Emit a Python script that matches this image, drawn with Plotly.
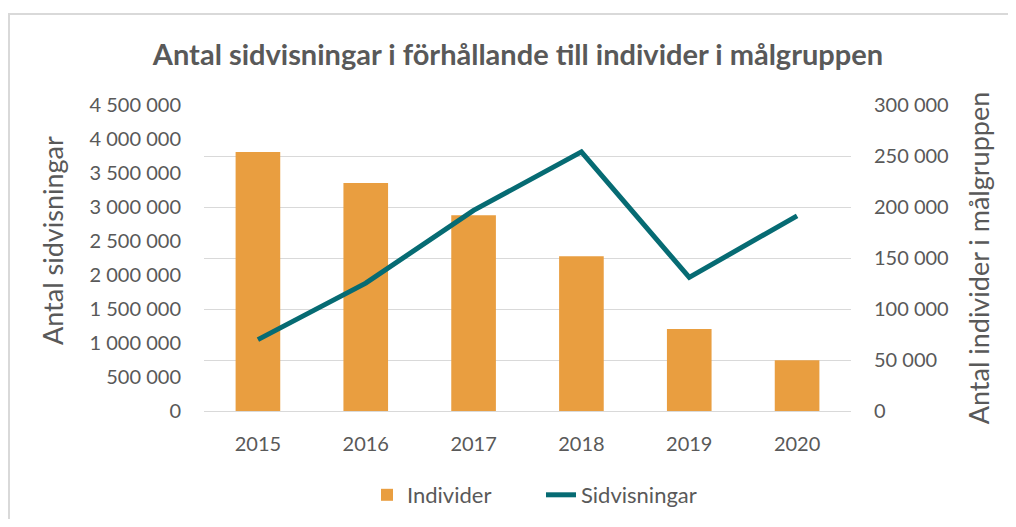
import plotly.graph_objects as go

years = ["2015", "2016", "2017", "2018", "2019", "2020"]
individer = [254000, 223500, 192000, 151700, 80400, 49700]
sidvisningar = [1050000, 1880000, 2950000, 3810000, 1965000, 2870000]

left_ticks = list(range(0, 4500001, 500000))
right_ticks = list(range(0, 300001, 50000))

TXT = "#595959"
FONT = "Lato, Carlito, Calibri, sans-serif"

# page body has 8px margin; figure is placed at (8, 8)
OFF = 8
W, H = 1000, 511
L, R, T, B = 204 - OFF, W - (851 - OFF), 105 - OFF, H - (411 - OFF)
pw, ph = W - L - R, H - T - B


def px_x(x):
    return (x - OFF - L) / pw


def px_y(y):
    return (H - B - (y - OFF)) / ph


fig = go.Figure()
fig.add_trace(go.Bar(
    x=years, y=individer, name="Individer", yaxis="y",
    marker=dict(color="#E99E40", line=dict(width=0)),
))
fig.add_trace(go.Scatter(
    x=years, y=sidvisningar, name="Sidvisningar", yaxis="y2",
    mode="lines", line=dict(color="#066B73", width=5),
))

fig.update_layout(
    width=W, height=H,
    margin=dict(l=L, r=R, t=T, b=B, autoexpand=False),
    paper_bgcolor="white", plot_bgcolor="white",
    separators=", ",
    font=dict(family=FONT, color=TXT, size=20),
    bargap=0.586,
    title=dict(
        text="<b>Antal sidvisningar i förhållande till individer i målgruppen</b>",
        x=(518 - OFF) / W, xanchor="center",
        y=1 - (55 - OFF) / H, yanchor="middle",
        font=dict(family=FONT, size=29, color=TXT),
    ),
    xaxis=dict(
        showgrid=False, showline=False, zeroline=False,
        ticks="", ticklabelstandoff=19, automargin=False,
        tickfont=dict(size=20, color=TXT),
    ),
    yaxis=dict(
        range=[0, 300000], tickvals=right_ticks, tickformat=",d",
        side="right",
        showgrid=True, gridcolor="#D9D9D9", gridwidth=1.3,
        zeroline=True, zerolinecolor="#D9D9D9", zerolinewidth=1.3,
        showline=False, ticks="", ticklabelstandoff=22, automargin=False,
        tickfont=dict(size=20, color=TXT),
        title=dict(text="Antal individer i målgruppen", standoff=22,
                   font=dict(size=27, color=TXT)),
    ),
    yaxis2=dict(
        range=[0, 4500000], tickvals=left_ticks, tickformat=",d",
        overlaying="y", side="left", showgrid=False, zeroline=False,
        showline=False, ticks="", ticklabelstandoff=22, automargin=False,
        tickfont=dict(size=20, color=TXT),
    ),
    annotations=[
        dict(text="Antal sidvisningar", xref="paper", yref="paper",
             x=px_x(52), y=px_y(241), xanchor="center", yanchor="middle",
             textangle=-90, showarrow=False,
             font=dict(size=27, color=TXT, family=FONT)),
    ],
    legend=dict(
        orientation="h", x=px_x(367), xanchor="left",
        y=px_y(495), yanchor="middle",
        font=dict(size=22, color=TXT), traceorder="normal",
        entrywidth=129, entrywidthmode="pixels",
    ),
    shapes=[
        dict(type="line", xref="paper", yref="paper",
             x0=px_x(9), x1=px_x(9), y0=px_y(14), y1=px_y(540),
             line=dict(color="#D9D9D9", width=2), layer="below"),
        dict(type="line", xref="paper", yref="paper",
             x0=px_x(8), x1=px_x(1030), y0=px_y(14), y1=px_y(14),
             line=dict(color="#D9D9D9", width=2), layer="below"),
    ],
)

fig.write_html("out.html")
